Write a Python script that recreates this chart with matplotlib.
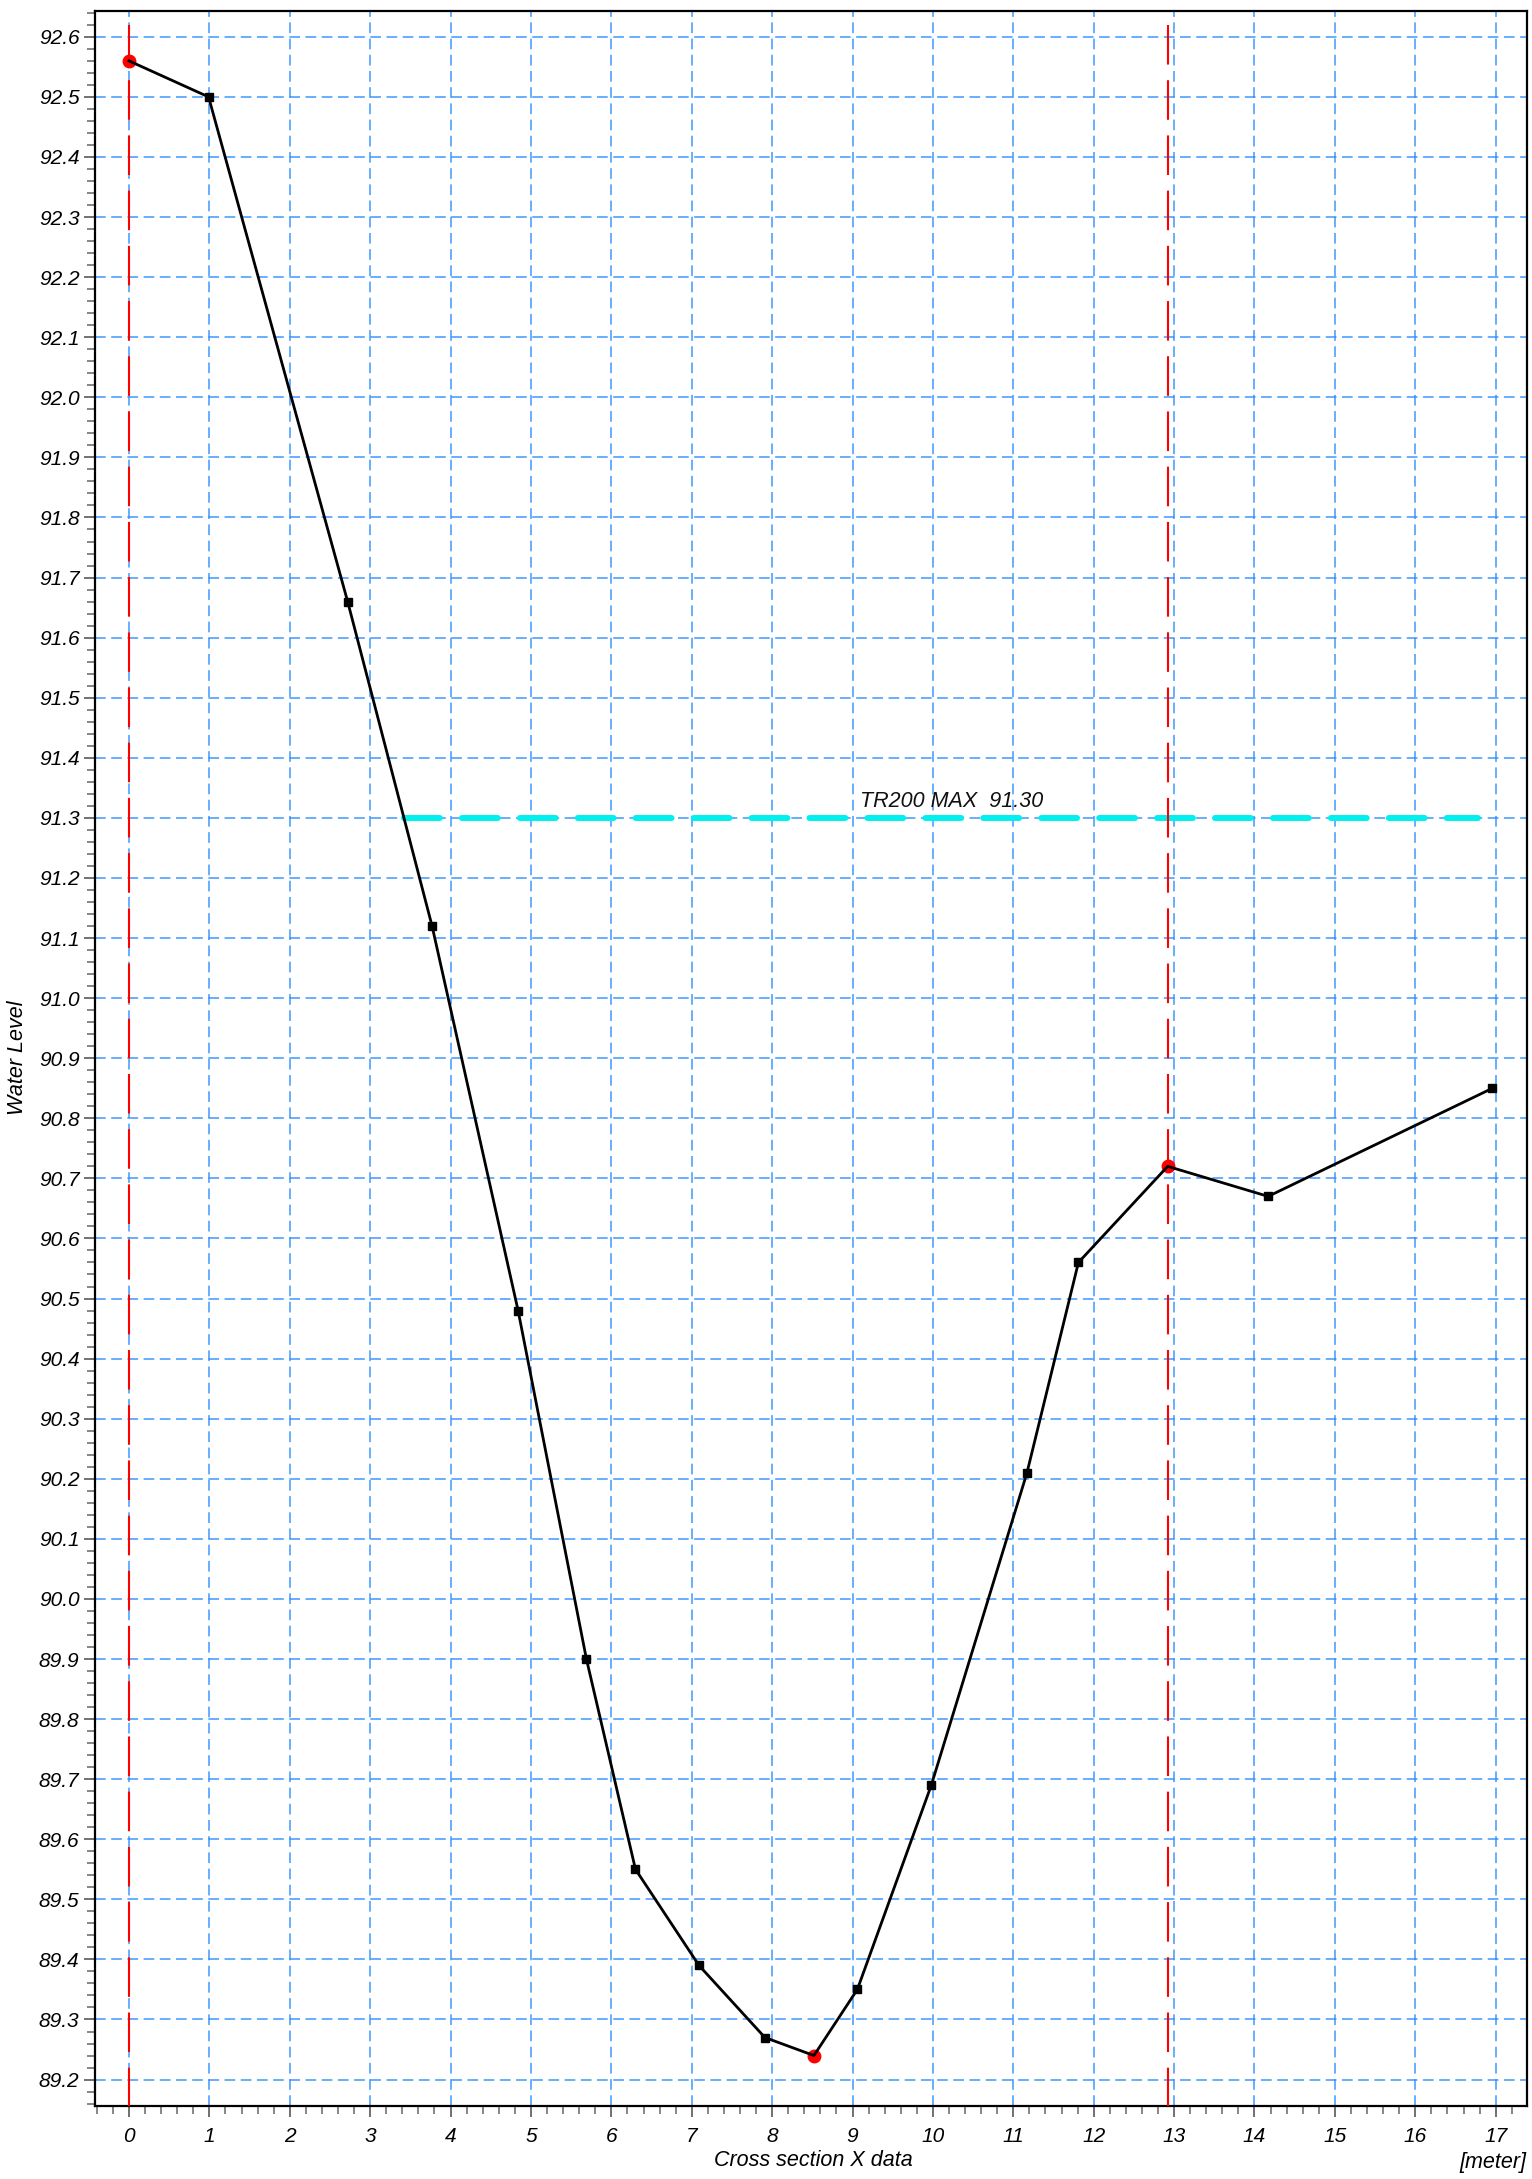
import matplotlib
matplotlib.use("Agg")
import matplotlib.pyplot as plt
from matplotlib.ticker import MultipleLocator, FormatStrFormatter

plt.rcParams['font.family'] = ['Liberation Sans', 'DejaVu Sans']
plt.rcParams['font.style'] = 'italic'

# ---- data ----
x_profile = [0.0, 0.99, 2.72, 3.77, 4.84, 5.69, 6.30, 7.09, 7.91, 8.52, 9.06,
             9.98, 11.17, 11.81, 12.92, 14.17, 16.96]
y_profile = [92.56, 92.50, 91.66, 91.12, 90.48, 89.90, 89.55, 89.39, 89.27, 89.24,
             89.35, 89.69, 90.21, 90.56, 90.72, 90.67, 90.85]
x_special = [0.0, 8.52, 12.92]
y_special = [92.56, 89.24, 90.72]
x_banks = [0.0, 12.92]
bank_top = 92.62
water_level = 91.30
water_x = [3.42, 16.78]
water_label = "TR200 MAX  91.30"
x_ticks = list(range(0, 18))
xlabel = "Cross section X data"
ylabel = "Water Level"
unit_label = "[meter]"

fig = plt.figure(figsize=(15.32, 21.79), dpi=100)
ax = fig.add_axes([0.0620, 0.0335, 0.99654 - 0.0620, 0.99495 - 0.0335])

ax.set_xlim(-0.423, 17.386)
ax.set_ylim(89.156, 92.643)

# grid
ax.set_axisbelow(True)
ax.grid(True, which='major', color='#2b8cff', linewidth=1.1,
        linestyle=(0, (7, 3.6)), alpha=0.9)

# water level
ax.plot(water_x, [water_level, water_level], color='#00f0f0', linewidth=4.3,
        linestyle=(0, (6, 3.7)), dash_capstyle='round', zorder=2)
ax.text(9.09, water_level + 0.009, water_label, fontsize=15.5, color='#111111',
        ha='left', va='bottom', zorder=5)

# bank lines
for xb in x_banks:
    ax.plot([xb, xb], [bank_top, 88.9], color='red', linewidth=1.5,
            linestyle=(0, (19, 7.5)), zorder=3)

# special points
ax.plot(x_special, y_special, linestyle='none', marker='o', markersize=9,
        color='red', zorder=4)

# profile
ax.plot(x_profile, y_profile, color='black', linewidth=2.0, marker='s',
        markersize=5.8, markevery=[i for i in range(len(x_profile))
                                   if x_profile[i] not in x_special], zorder=5)

# ticks
ax.set_xticks(x_ticks)
ax.xaxis.set_minor_locator(MultipleLocator(0.2))
ax.yaxis.set_major_locator(MultipleLocator(0.1))
ax.yaxis.set_minor_locator(MultipleLocator(0.02))
ax.yaxis.set_major_formatter(FormatStrFormatter('%.1f'))
ax.tick_params(axis='both', which='major', length=8.2, width=1.3, color='#666666',
               labelsize=15, direction='out')
ax.tick_params(axis='both', which='minor', length=5.5, width=1.1, color='#666666',
               direction='out')
ax.tick_params(axis='x', which='major', pad=7)
ax.tick_params(axis='y', which='major', pad=3)

for sp in ax.spines.values():
    sp.set_linewidth(1.6)
    sp.set_color('black')

fig.text(0.531, 0.0085, xlabel, fontsize=15.5, ha='center', va='center')
fig.text(0.9965, 0.0075, unit_label, fontsize=15.5, ha='right', va='center')
fig.text(0.0115, 0.5145, ylabel, fontsize=15.5, ha='center', va='center', rotation=90)

fig.savefig("out.png", dpi=100)
